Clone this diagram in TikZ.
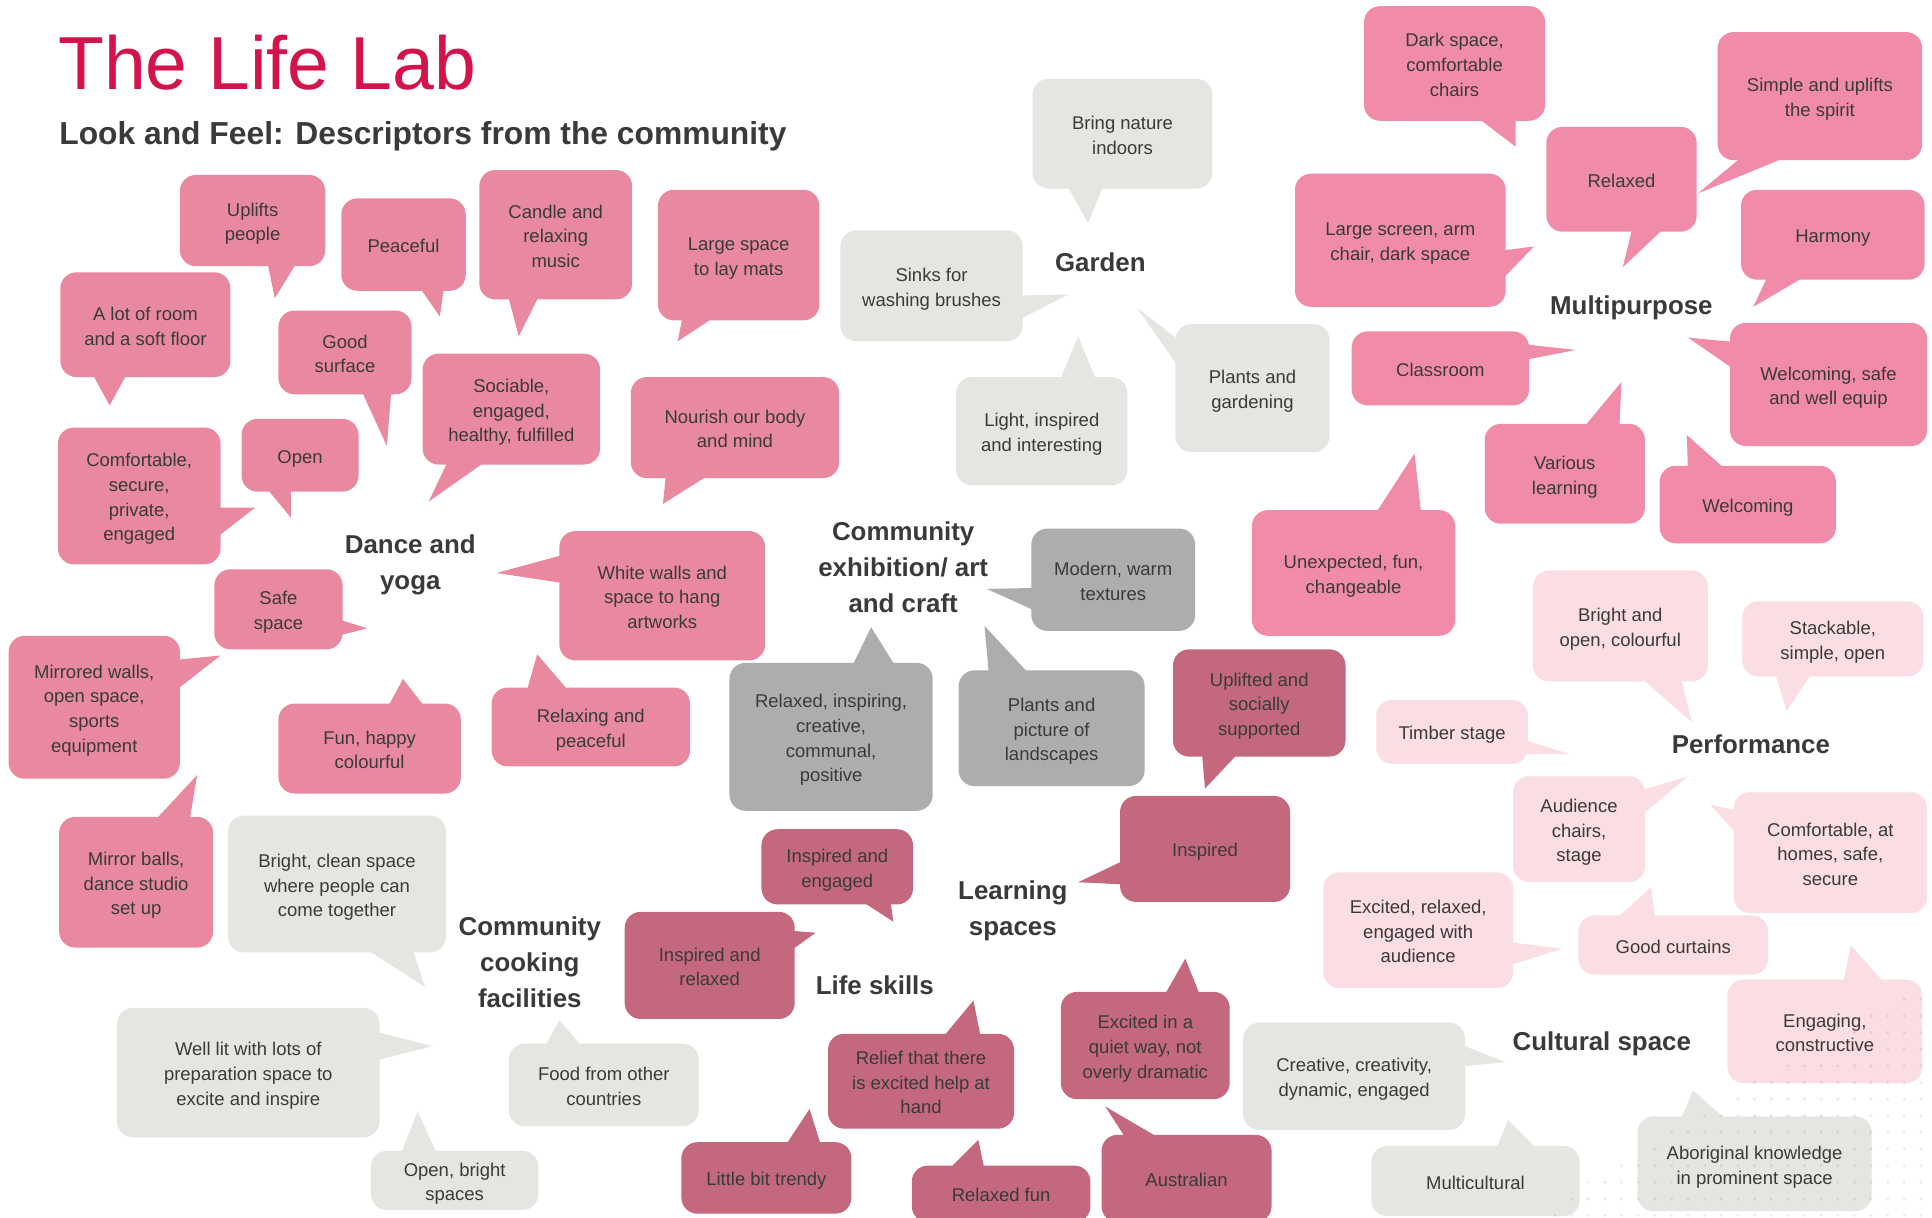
\documentclass[tikz,border=0pt]{standalone}
\usepackage{fontspec}
\setmainfont{Liberation Sans}
\definecolor{cD}{HTML}{E8899F}
\definecolor{cP}{HTML}{F08CA7}
\definecolor{cL}{HTML}{C3687D}
\definecolor{cF}{HTML}{FBDDE4}
\definecolor{cG}{HTML}{E5E6E2}
\definecolor{cM}{HTML}{ADADAD}
\definecolor{txt}{HTML}{3A3A3A}
\definecolor{ttl}{HTML}{D3134B}
\tikzset{
  bub/.style={rounded corners=13pt, inner sep=0pt, align=center, text=txt, font=\fontsize{15}{20}\selectfont},
  lab/.style={align=center, text=txt, font=\fontsize{21}{29}\selectfont\bfseries, inner sep=0pt}
}
\newcommand\bub[7]{%
  \pgfmathsetmacro\bubx{(#3+#5)/2}%
  \pgfmathsetmacro\buby{(#4+#6)/2}%
  \pgfmathsetmacro\bubw{#5-#3}%
  \pgfmathsetmacro\bubh{#6-#4}%
  \node[bub,fill=#2,minimum width=\bubw pt,minimum height=\bubh pt] (#1) at (\bubx,\buby) {\rule{0pt}{16pt}#7\rule[-3pt]{0pt}{3pt}};%
}
\newcommand\btail[4]{\fill[#1] #2 -- #3 -- #4 -- cycle;}
\newcommand\labtext[1]{\rule{0pt}{19pt}#1\rule[-4pt]{0pt}{4pt}}
\begin{document}
\begin{tikzpicture}[x=1pt,y=-1pt]
\useasboundingbox (0,0) rectangle (1568,988);
\fill[white] (0,0) rectangle (1568,988);

% Title
\node[anchor=base west, inner sep=0pt, text=ttl, font=\fontsize{61}{61}\selectfont] (title) at (47,72.5) {The Life Lab};
\node[anchor=base west, inner sep=0pt, text=txt, font=\fontsize{25.8}{26}\selectfont\bfseries] (subtitle) at (48,117) {Look and Feel: Descriptors from the community};

% Dance and yoga
\btail{cD}{(216,208)}{(223,242)}{(244,208)}
\bub{d1}{cD}{146}{142}{264}{216}{Uplifts\\people}
\btail{cD}{(337,228)}{(357,257)}{(361,228)}
\bub{d2}{cD}{277}{161}{378}{236}{Peaceful}
\btail{cD}{(411,235)}{(421,273)}{(440,235)}
\bub{d3}{cD}{389}{138}{513}{243}{Candle and\\relaxing\\music}
\btail{cD}{(555,252)}{(550,277)}{(588,252)}
\bub{d4}{cD}{534}{154}{665}{260}{Large space\\to lay mats}
\btail{cD}{(72,298)}{(89,329)}{(106,298)}
\bub{d5}{cD}{49}{221}{187}{306}{A lot of room\\and a soft floor}
\btail{cD}{(291,312)}{(314,362)}{(318,312)}
\bub{d6}{cD}{226}{252}{334}{320}{Good\\surface}
\btail{cD}{(366,369)}{(348,407)}{(402,369)}
\bub{d7}{cD}{343}{287}{487}{377}{Sociable,\\engaged,\\healthy, fulfilled}
\btail{cD}{(541,380)}{(538,409)}{(584,380)}
\bub{d8}{cD}{512}{306}{681}{388}{Nourish our body\\and mind}
\btail{cD}{(212,391)}{(236,420)}{(236,391)}
\bub{d9}{cD}{196}{340}{291}{399}{Open}
\btail{cD}{(171,412)}{(207,412)}{(171,440)}
\bub{d10}{cD}{47}{347}{179}{458}{Comfortable,\\secure,\\private,\\engaged}
\btail{cD}{(462,449)}{(403,465)}{(462,474)}
\bub{d11}{cD}{454}{431}{621}{536}{White walls and\\space to hang\\artworks}
\btail{cD}{(270,501)}{(298,510)}{(270,517)}
\bub{d12}{cD}{174}{462}{278}{527}{Safe\\space}
\btail{cD}{(138,536)}{(179,532)}{(138,564)}
\bub{d13}{cD}{7}{516}{146}{632}{Mirrored walls,\\open space,\\sports\\equipment}
\btail{cD}{(426,566)}{(436,531)}{(466,566)}
\bub{d14}{cD}{399}{558}{560}{622}{Relaxing and\\peaceful}
\btail{cD}{(312,579)}{(327,551)}{(349,579)}
\bub{d15}{cD}{226}{571}{374}{644}{Fun, happy\\colourful}
\btail{cD}{(121,671)}{(160,629)}{(153,671)}
\bub{d16}{cD}{48}{663}{173}{769}{Mirror balls,\\dance studio\\set up}
\node[lab] (ldance) at (333,456.5) {\labtext{Dance and\\yoga}};

% Community cooking facilities
\btail{cG}{(289,765)}{(345,801)}{(333,765)}
\bub{c1}{cG}{185}{662}{362}{773}{Bright, clean space\\where people can\\come together}
\btail{cG}{(300,836)}{(351,849)}{(300,862)}
\bub{c2}{cG}{95}{818}{308}{923}{Well lit with lots of\\preparation space to\\excite and inspire}
\btail{cG}{(439,855)}{(454,828)}{(477,855)}
\bub{c3}{cG}{413}{847}{567}{914}{Food from other\\countries}
\btail{cG}{(323,942)}{(339,902)}{(357,942)}
\bub{c4}{cG}{301}{934}{437}{982}{Open, bright\\spaces}
\node[lab] (lcook) at (430,781) {\labtext{Community\\cooking\\facilities}};

% Life skills
\btail{cL}{(691,726)}{(725,748)}{(722,726)}
\bub{l1}{cL}{618}{673}{741}{734}{Inspired and\\engaged}
\btail{cL}{(637,755)}{(662,757)}{(637,775)}
\bub{l2}{cL}{507}{740}{645}{827}{Inspired and\\relaxed}
\btail{cL}{(761,847)}{(790,812)}{(797,847)}
\bub{l3}{cL}{672}{839}{823}{916}{Relief that there\\is excited help at\\hand}
\btail{cL}{(634,935)}{(657,900)}{(668,935)}
\bub{l4}{cL}{553}{927}{691}{985}{Little bit trendy}
\btail{cL}{(765,954)}{(794,925)}{(800,954)}
\bub{l5}{cL}{740}{946}{885}{992}{Relaxed fun}
\node[lab] (llife) at (710,800) {\labtext{Life skills}};

% Learning spaces
\btail{cL}{(975,606)}{(978,640)}{(1010,606)}
\bub{s1}{cL}{952}{527}{1092}{614}{Uplifted and\\socially\\supported}
\btail{cL}{(917,696)}{(875,716)}{(917,718)}
\bub{s2}{cL}{909}{646}{1047}{732}{Inspired}
\btail{cL}{(942,813)}{(962,778)}{(976,813)}
\bub{s3}{cL}{861}{805}{998}{892}{Excited in a\\quiet way, not\\overly dramatic}
\btail{cL}{(917,929)}{(897,898)}{(950,929)}
\bub{s4}{cL}{894}{921}{1032}{992}{Australian}
\node[lab] (llearn) at (822,737.5) {\labtext{Learning\\spaces}};

% Community exhibition / art and craft
\btail{cM}{(845,477)}{(801,478)}{(845,498)}
\bub{e1}{cM}{837}{429}{970}{512}{Modern, warm\\textures}
\btail{cM}{(689,546)}{(707,509)}{(730,546)}
\bub{e2}{cM}{592}{538}{757}{658}{Relaxed, inspiring,\\creative,\\communal,\\positive}
\btail{cM}{(803,552)}{(799,508)}{(840,552)}
\bub{e3}{cM}{778}{544}{929}{638}{Plants and\\picture of\\landscapes}
\node[lab] (lexhib) at (733,460.5) {\labtext{Community\\exhibition/ art\\and craft}};

% Garden
\btail{cG}{(863,145)}{(883,181)}{(898,145)}
\bub{g1}{cG}{838}{64}{984}{153}{Bring nature\\indoors}
\btail{cG}{(822,240)}{(867,239)}{(822,262)}
\bub{g2}{cG}{682}{187}{830}{277}{Sinks for\\washing brushes}
\btail{cG}{(858,314)}{(875,273)}{(892,314)}
\bub{g3}{cG}{776}{306}{915}{394}{Light, inspired\\and interesting}
\btail{cG}{(962,280)}{(923,250)}{(962,306)}
\bub{g4}{cG}{954}{263}{1079}{367}{Plants and\\gardening}
\node[lab] (lgarden) at (893,213) {\labtext{Garden}};

% Multipurpose
\btail{cP}{(1192,90)}{(1230,119)}{(1230,90)}
\bub{m1}{cP}{1107}{5}{1254}{98}{Dark space,\\comfortable\\chairs}
\btail{cP}{(1420,122)}{(1378,157)}{(1463,122)}
\bub{m2}{cP}{1394}{26}{1560}{130}{Simple and uplifts\\the spirit}
\btail{cP}{(1326,180)}{(1317,217)}{(1356,180)}
\bub{m3}{cP}{1255}{103}{1377}{188}{Relaxed}
\btail{cP}{(1437,219)}{(1423,249)}{(1474,219)}
\bub{m4}{cP}{1413}{154}{1562}{227}{Harmony}
\btail{cP}{(1214,204)}{(1245,200)}{(1214,232)}
\bub{m5}{cP}{1051}{141}{1222}{249}{Large screen, arm\\chair, dark space}
\btail{cP}{(1233,279)}{(1279,284)}{(1233,293)}
\bub{m6}{cP}{1097}{269}{1241}{329}{Classroom}
\btail{cP}{(1412,278)}{(1370,274)}{(1412,303)}
\bub{m7}{cP}{1404}{262}{1564}{362}{Welcoming, safe\\and well equip}
\btail{cP}{(1281,352)}{(1316,310)}{(1314,352)}
\bub{m8}{cP}{1205}{344}{1335}{425}{Various\\learning}
\btail{cP}{(1370,386)}{(1369,353)}{(1406,386)}
\bub{m9}{cP}{1347}{378}{1490}{441}{Welcoming}
\btail{cP}{(1113,422)}{(1148,368)}{(1154,422)}
\bub{m10}{cP}{1016}{414}{1181}{516}{Unexpected, fun,\\changeable}
\node[lab] (lmulti) at (1324,248) {\labtext{Multipurpose}};

% Performance
\btail{cF}{(1326,545)}{(1373,586)}{(1363,545)}
\bub{p1}{cF}{1244}{463}{1386}{553}{Bright and\\open, colourful}
\btail{cF}{(1439,541)}{(1450,577)}{(1474,541)}
\bub{p2}{cF}{1414}{488}{1561}{549}{Stackable,\\simple, open}
\btail{cF}{(1232,599)}{(1274,612)}{(1232,612)}
\bub{p3}{cF}{1117}{568}{1240}{620}{Timber stage}
\btail{cF}{(1327,643)}{(1370,630)}{(1327,666)}
\bub{p4}{cF}{1228}{630}{1335}{716}{Audience\\chairs,\\stage}
\btail{cF}{(1415,659)}{(1388,653)}{(1415,683)}
\bub{p5}{cF}{1407}{643}{1564}{741}{Comfortable, at\\homes, safe,\\secure}
\btail{cF}{(1220,764)}{(1268,770)}{(1220,785)}
\bub{p6}{cF}{1074}{708}{1228}{802}{Excited, relaxed,\\engaged with\\audience}
\btail{cF}{(1306,751)}{(1340,720)}{(1344,751)}
\bub{p7}{cF}{1281}{743}{1435}{791}{Good curtains}
\btail{cF}{(1495,803)}{(1502,767)}{(1534,803)}
\bub{p8}{cF}{1402}{795}{1560}{879}{Engaging,\\constructive}
\node[lab] (lperf) at (1421,604) {\labtext{Performance}};

% Cultural space
\btail{cG}{(1181,846)}{(1222,862)}{(1181,866)}
\bub{u1}{cG}{1009}{830}{1189}{917}{Creative, creativity,\\dynamic, engaged}
\btail{cG}{(1212,938)}{(1224,909)}{(1253,938)}
\bub{u2}{cG}{1113}{930}{1282}{987}{Multicultural}
\btail{cG}{(1362,914)}{(1374,885)}{(1407,914)}
\bub{u3}{cG}{1329}{906}{1519}{983}{Aboriginal knowledge\\in prominent space}
\node[lab] (lcult) at (1300,845) {\labtext{Cultural space}};

% dotted texture, bottom right
\foreach \i in {0,...,23}{
  \foreach \j in {0,...,15}{
    \pgfmathsetmacro\dotx{1262+13.5*\i}
    \pgfmathsetmacro\doty{784+13.5*\j}
    \pgfmathtruncatemacro\dotok{\doty > 969-(\dotx-1269)*0.587}
    \ifnum\dotok=1 \fill[black, opacity=0.08] (\dotx,\doty) circle (1.4pt);\fi
  }
}
\end{tikzpicture}
\end{document}
